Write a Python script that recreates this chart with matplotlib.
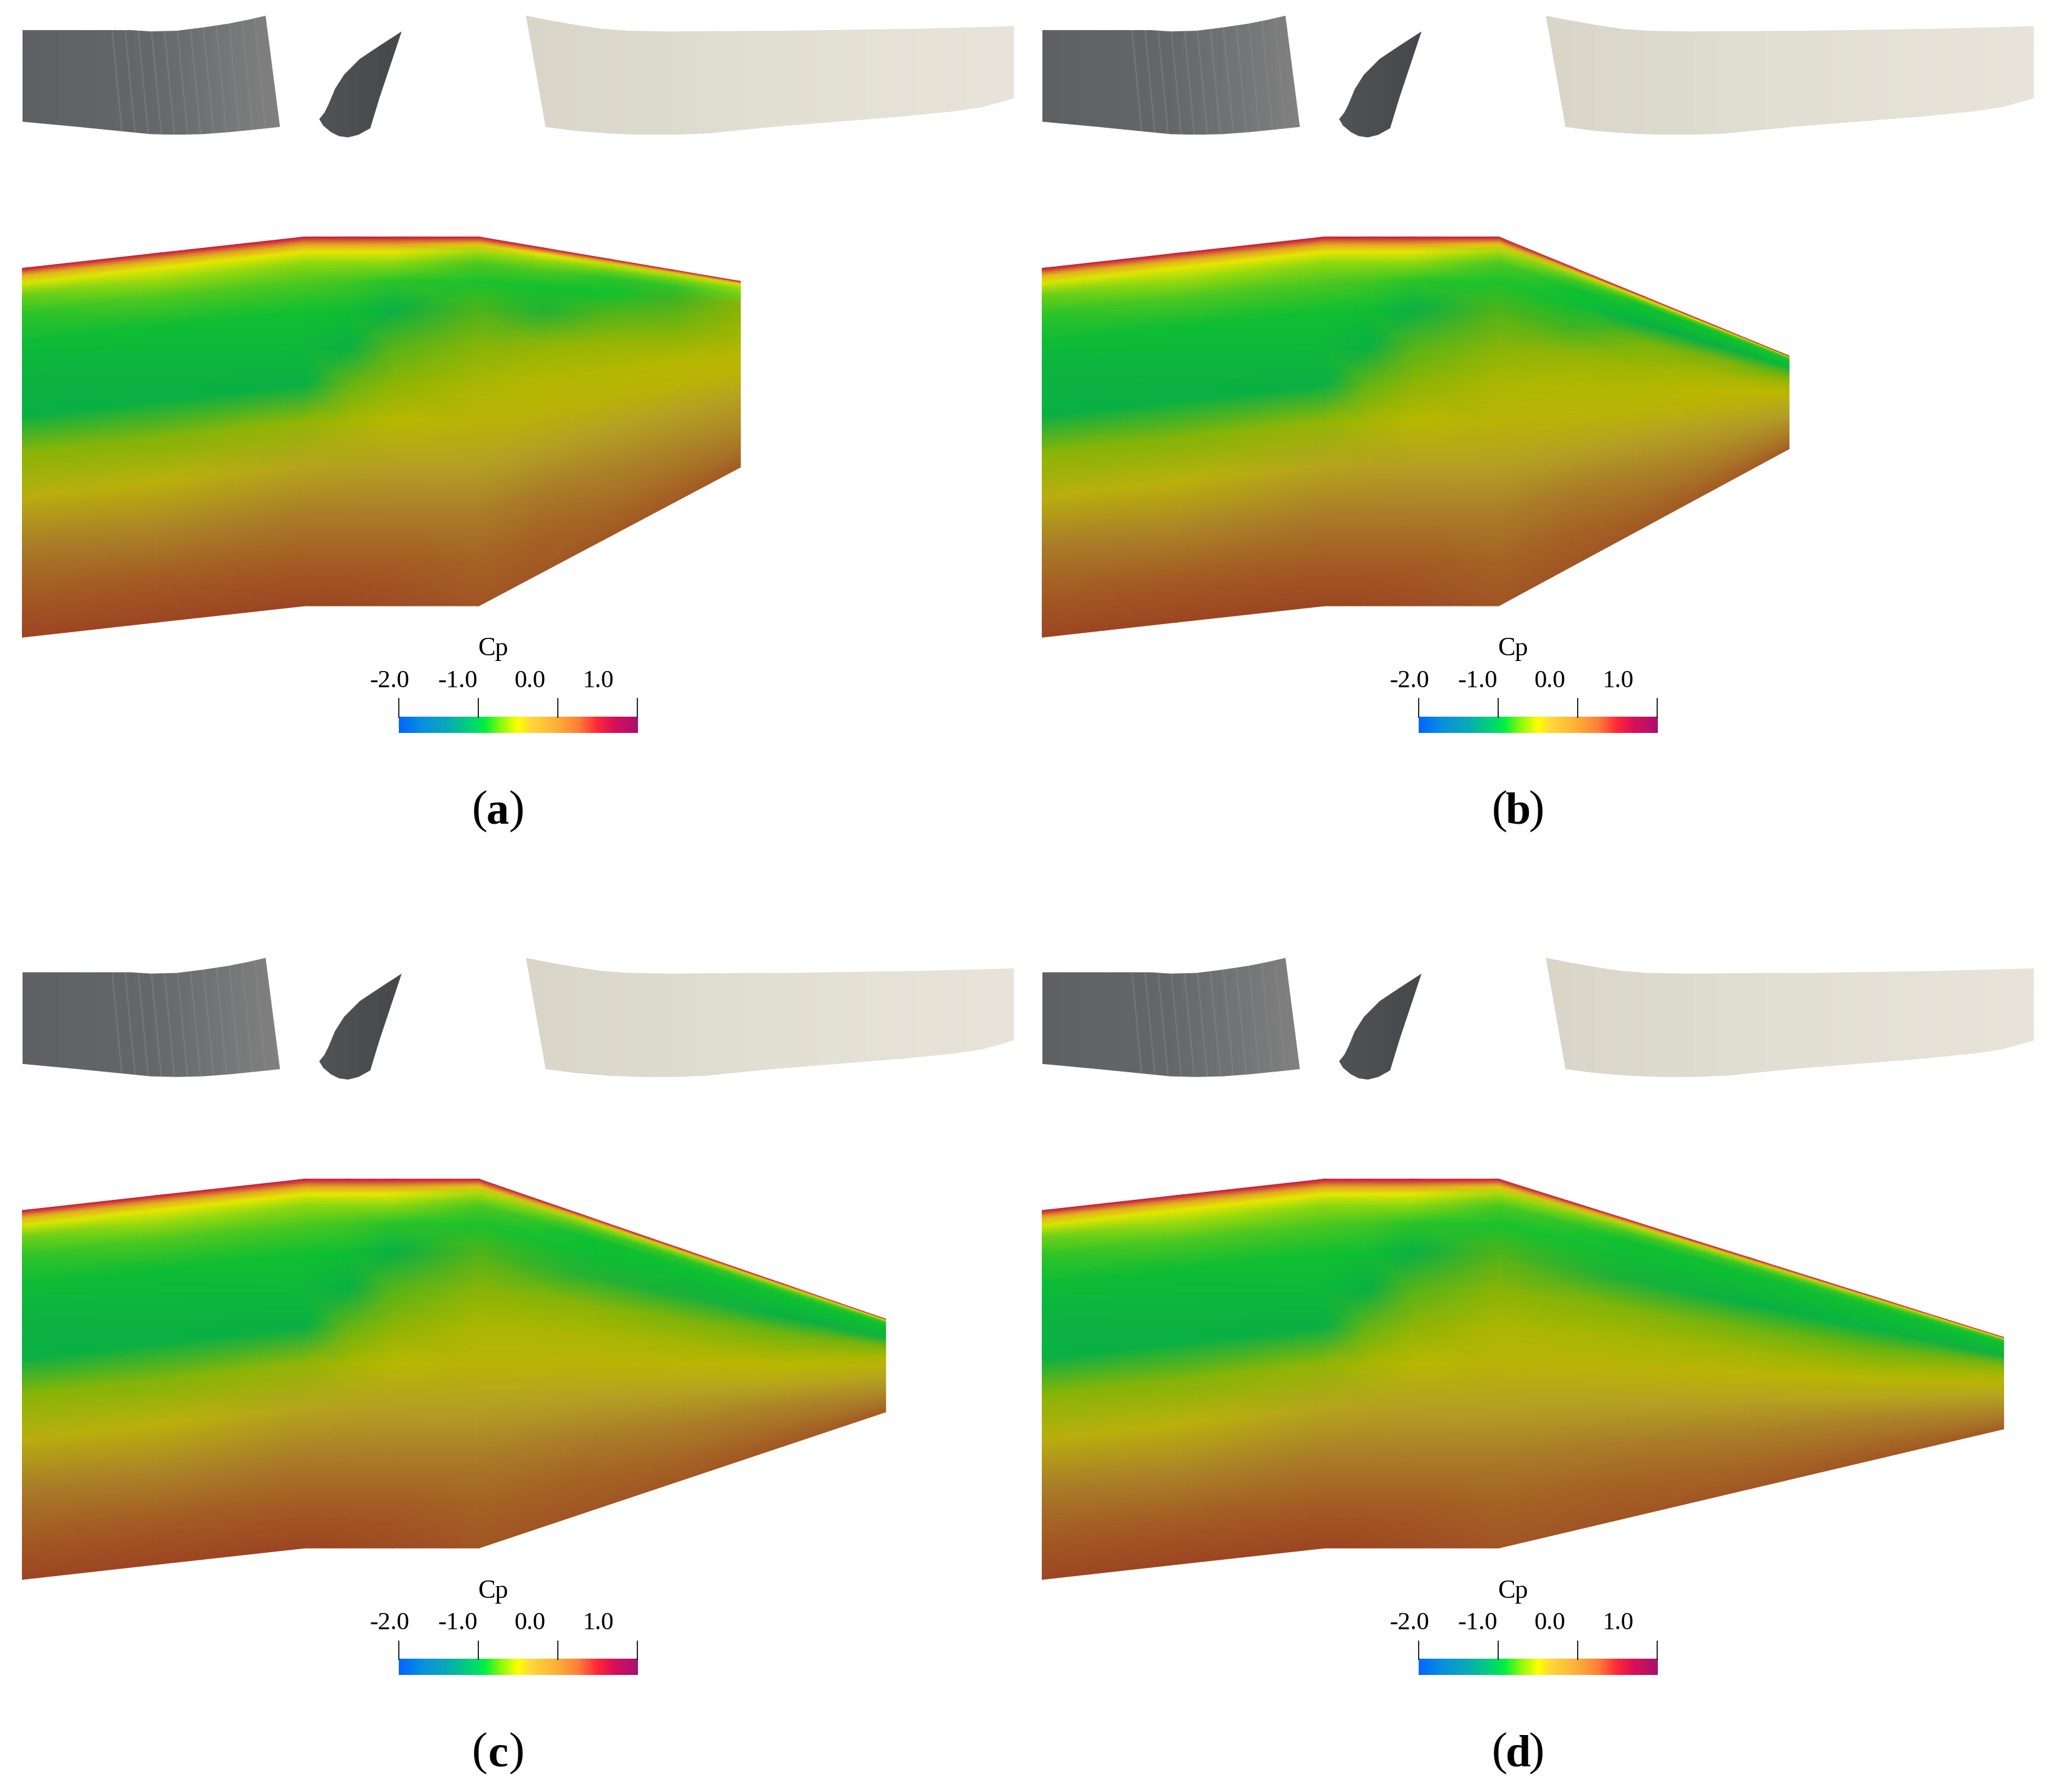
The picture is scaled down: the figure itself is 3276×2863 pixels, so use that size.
import matplotlib
matplotlib.use("Agg")
import matplotlib.pyplot as plt
import numpy as np
from matplotlib.colors import LinearSegmentedColormap
from matplotlib.patches import Polygon

# all positions at about 1567 px wide
PAGE_W, PAGE_H = 1567.6, 1369.4

# duct walls, forebody stations shared by all panels
fore_x = [17, 120, 233, 266, 300, 366]
fore_top = [205, 193.5, 181, 181, 181, 181]
fore_bot = [487, 475.5, 463, 463, 463, 463]
row_t = [0, .12, .25, .38, .5, .6, .7, .8, .88, .93, .96, .98, .99, 1]

# colour level (0 wall red ... 5 green ... 9 olive ... 13 brown), column per station, bottom to top
fore_levels = [
    [13, 12, 11, 9.4, 8, 6, 5.9, 5.3, 4.5, 3.5, 2.2, 1.4, .7, 0],
    [13, 12, 10.8, 9.3, 7.9, 6, 5.7, 5.2, 4, 2.8, 2, 1.3, .7, 0],
    [13, 12, 11, 9.8, 8.2, 6, 5.5, 5, 4, 3, 2, 1.2, .6, 0],
    [12.9, 12, 11, 9.9, 8.6, 7.5, 6, 5.2, 4.2, 3, 2, 1.2, .6, 0],
    [12.7, 12, 11, 10, 8.9, 8.1, 7.3, 6, 4.6, 3, 2, 1.2, .6, 0],
    [12.3, 11.8, 11, 10, 9.2, 8.7, 8, 7.2, 4.8, 4, 2.8, 1.6, .8, 0],
]

# nozzle ends: x, top wall y, bottom wall y
end_a = (566, 215, 357)
end_b = (588, 272, 343)
end_c = (677, 288, 359)
end_d = (752, 302, 372)

nozzle_a = [
    [12.2, 11.8, 11, 10, 9.2, 8.8, 8.2, 6.5, 5, 4, 3, 2, 1, 0],
    [12.2, 11.5, 10.8, 10, 9.2, 8.8, 8.3, 7.3, 5, 4.6, 3.5, 2.5, 1.3, 0],
    [12.1, 11.4, 10.7, 10, 9.2, 8.9, 8.2, 7.5, 7, 4.5, 3.5, 2.6, 1.5, 0],
    [12, 11.2, 10.5, 9.9, 9.2, 8.9, 8.5, 8.2, 8, 3.4, 3, 2.4, 1.5, 0],
]
nozzle_b = [
    [12.3, 11.8, 11, 10, 9.2, 8.8, 8.3, 7, 5.2, 5, 4, 2.8, 1.5, 0],
    [12.2, 11.5, 10.8, 10, 9.2, 8.8, 8.4, 7.8, 6, 5.2, 5, 3.5, 2, 0],
    [12, 11.3, 10.6, 10, 9.3, 9, 8.6, 7.8, 6, 5.2, 5, 4, 2, 0],
    [12, 11.2, 10.6, 10, 9.5, 9, 8.5, 7.5, 5.5, 5, 4.8, 4, 2.5, 0],
]
nozzle_c = [
    [12.3, 11.8, 11, 10, 9.2, 8.7, 8, 6.5, 5.2, 5, 4, 2.8, 1.5, 0],
    [12.2, 11.6, 10.9, 9.9, 9.1, 8.5, 7.8, 6.3, 5.3, 5, 4.4, 3, 1.6, 0],
    [12.2, 11.5, 10.8, 9.8, 9, 8.3, 7.6, 6, 5.3, 5, 4.4, 3, 1.6, 0],
    [12, 11.2, 10.5, 9.8, 9.2, 8.6, 7.8, 6.2, 5.3, 5, 4.6, 3.5, 2, 0],
]
nozzle_d = [
    [12.3, 11.8, 11, 10, 9.2, 8.6, 7.9, 6.3, 5.2, 5, 4, 2.8, 1.5, 0],
    [12.2, 11.6, 10.9, 9.9, 9.1, 8.4, 7.6, 6, 5.3, 5.1, 4.4, 3, 1.6, 0],
    [12.2, 11.5, 10.8, 9.8, 8.9, 8.2, 7.4, 5.9, 5.3, 5.1, 4.5, 3.2, 1.7, 0],
    [12, 11.2, 10.5, 9.8, 9.2, 8.6, 7.8, 6.2, 5.3, 5, 4.6, 3.5, 2, 0],
]

# field colours by level
field_colors = ["#c8183c", "#e09030", "#e8e800", "#90d810", "#50c820", "#10c030", "#0ab044",
                "#40b420", "#88b408", "#bcb800", "#b4a024", "#aa7e28", "#a45c24", "#9c4622"]

# colour bar
bar_stops = [0, .1, .2, .33, .36, .42, .5, .55, .66, .75, .83, .9, 1]
bar_colors = ["#0066ff", "#0a90dd", "#0aa8b8", "#00e060", "#00f040", "#80f810", "#ffff00",
              "#ffd838", "#ffb038", "#ff8038", "#ff2838", "#d81058", "#a81070"]
bar_ticks = [-2.0, -1.0, 0.0, 1.0]
bar_labels = ["-2.0", "-1.0", "0.0", "1.0"]
label_x = [298, 350, 405, 457]

# section shapes above the duct
grey_shape = [(17, 23), (100, 23), (115, 24), (135, 23.5), (155, 21), (175, 18), (190, 15), (203, 12),
              (214, 97), (195, 99), (175, 101), (155, 102.5), (135, 103), (115, 102.5), (90, 100),
              (60, 97), (17, 93)]
dark_shape = [(307, 24), (290, 35), (275, 45), (263, 57), (256, 68), (251, 80), (248, 86), (244, 91),
              (247, 96), (253, 101), (259, 104), (266, 105), (274, 103), (283, 98), (290, 75), (300, 45)]
beige_shape = [(402, 12), (420, 15.5), (440, 19), (460, 22), (480, 23.5), (510, 24), (600, 23.5),
               (700, 22), (775, 20), (775, 75), (765, 78), (750, 82), (730, 85), (690, 89), (640, 93),
               (590, 97), (540, 102), (515, 103), (490, 103), (465, 102), (440, 100), (417, 97)]
stripes_top = [84, 94, 104, 114, 124, 134, 144, 154, 164, 174, 184, 194]
stripes_bot = [94, 104, 114, 124, 134, 144, 154, 164, 174, 184, 194, 204]

panels = [
    ("a", 0, 0, end_a, nozzle_a),
    ("b", 779.5, 0, end_b, nozzle_b),
    ("c", 0, 720, end_c, nozzle_c),
    ("d", 779.5, 720, end_d, nozzle_d),
]

plt.rcParams["font.family"] = ["Liberation Serif", "DejaVu Serif"]
field_cmap = LinearSegmentedColormap.from_list("field", field_colors, N=512)
bar_cmap = LinearSegmentedColormap.from_list("bar", list(zip(bar_stops, bar_colors)), N=512)
grey_cmap = LinearSegmentedColormap.from_list("grey", ["#5f6064", "#66676a", "#808180"])
beige_cmap = LinearSegmentedColormap.from_list("beige", ["#d9d5c9", "#e2dfd3", "#e9e4d9"])

fig = plt.figure(figsize=(32.76, 28.63), dpi=100)
ax = fig.add_axes([0, 0, 1, 1])
ax.axis("off")


def fill_shape(points, cmap, dx, dy):
    pts = np.array(points, dtype=float) + [dx, dy]
    grad = np.linspace(0, 1, 256).reshape(1, -1)
    im = ax.imshow(grad, cmap=cmap, aspect="auto", zorder=2,
                   extent=(pts[:, 0].min(), pts[:, 0].max(), pts[:, 1].max(), pts[:, 1].min()))
    im.set_clip_path(Polygon(pts, transform=ax.transData))
    return pts


def draw_panel(name, dx, dy, end, nozzle):
    # section shapes
    pts = fill_shape(grey_shape, grey_cmap, dx, dy)
    clip = Polygon(pts, transform=ax.transData)
    for xt, xb in zip(stripes_top, stripes_bot):
        line, = ax.plot([xt + dx, xb + dx], [5 + dy, 110 + dy], color="#909090", lw=1.6, alpha=.4, zorder=3)
        line.set_clip_path(clip)
    fill_shape(dark_shape, LinearSegmentedColormap.from_list("dark", ["#525357", "#47484b"]), dx, dy)
    fill_shape(beige_shape, beige_cmap, dx, dy)

    # Cp field on the duct section
    fracs = np.array([.25, .5, .75, 1])
    noz_x = fore_x[-1] + fracs * (end[0] - fore_x[-1])
    noz_top = fore_top[-1] + fracs * (end[1] - fore_top[-1])
    noz_bot = fore_bot[-1] + fracs * (end[2] - fore_bot[-1])
    xs = np.r_[fore_x, noz_x]
    tops = np.r_[fore_top, noz_top]
    bots = np.r_[fore_bot, noz_bot]
    t = np.array(row_t)
    X = np.outer(np.ones_like(t), xs) + dx
    Y = np.outer(1 - t, bots) + np.outer(t, tops) + dy
    C = np.array(fore_levels + nozzle).T
    ax.pcolormesh(X, Y, C, shading="gouraud", cmap=field_cmap, vmin=0, vmax=13, zorder=2)

    # colour bar with its ticks above
    bar_x0, bar_x1 = 305 + dx, 487.5 + dx
    ax.imshow(np.linspace(-2, 1, 512).reshape(1, -1), cmap=bar_cmap, vmin=-2, vmax=1, aspect="auto",
              extent=(bar_x0, bar_x1, 560 + dy, 548 + dy), zorder=2)
    for val, lab, lx in zip(bar_ticks, bar_labels, label_x):
        tx = bar_x0 + (val + 2) / 3 * (bar_x1 - bar_x0 - .5)
        ax.plot([tx, tx], [534 + dy, 548 + dy], color="black", lw=1.2, zorder=3)
        ax.text(lx + dx, 520.5 + dy, lab, ha="center", va="center", fontsize=29, color="black")
    ax.text(377 + dx, 496 + dy, "Cp", ha="center", va="center", fontsize=30, color="black")

    # caption, letter in bold
    cx = 380.5 + dx
    ax.text(cx - 14, 620 + dy, "(", ha="center", va="center", fontsize=54)
    ax.text(cx, 621 + dy, name, ha="center", va="center", fontsize=52, fontweight="bold")
    ax.text(cx + 14.5, 620 + dy, ")", ha="center", va="center", fontsize=54)


for name, dx, dy, end, nozzle in panels:
    draw_panel(name, dx, dy, end, nozzle)

ax.set_xlim(0, PAGE_W)
ax.set_ylim(PAGE_H, 0)
fig.savefig("out.png", dpi=100, facecolor="white")
